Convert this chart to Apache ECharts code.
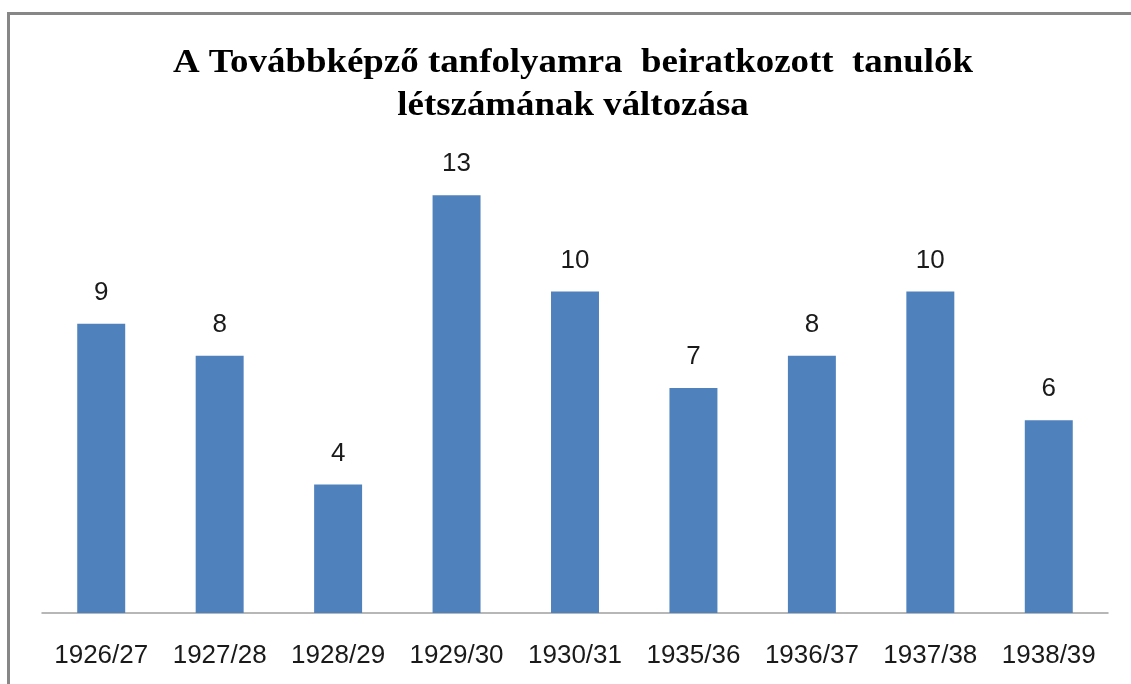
<!DOCTYPE html>
<html>
<head>
<meta charset="utf-8">
<script src="https://cdn.jsdelivr.net/npm/echarts@6/dist/echarts.min.js"></script>
<style>
  html, body { margin: 0; padding: 0; background: #fff; }
  #chart { width: 1131px; height: 684px; }
</style>
</head>
<body>
<div id="chart"></div>
<script>
// School years and enrolment counts for the further-training course
const years = ['1926/27', '1927/28', '1928/29', '1929/30', '1930/31', '1935/36', '1936/37', '1937/38', '1938/39'];
const students = [9, 8, 4, 13, 10, 7, 8, 10, 6];
const titleLines = ['A Továbbképző tanfolyamra  beiratkozott  tanulók', 'létszámának változása'];

const chart = echarts.init(document.getElementById('chart'), null, { renderer: 'canvas' });

const titleFont = {
  fontFamily: '"Liberation Serif", "Times New Roman", serif',
  fontWeight: 'bold',
  fontSize: 34,
  fill: '#000',
  align: 'center',
  verticalAlign: 'middle'
};

// Title lines, drawn slightly widened like the original typeface
const titleGraphics = titleLines.map((line, i) => {
  const cy = 63 + i * 43;
  return {
    type: 'text',
    x: 573,
    y: cy,
    scaleX: 1.085,
    style: Object.assign({ text: line }, titleFont),
    silent: true
  };
});

chart.setOption({
  animation: false,
  backgroundColor: '#ffffff',
  graphic: [{
    type: 'rect',
    shape: { x: 8.5, y: 13.5, width: 1200, height: 800 },
    style: { fill: 'none', stroke: '#878787', lineWidth: 3 },
    silent: true
  }].concat(titleGraphics),
  grid: { left: 42, right: 23, top: 163, bottom: 71 },
  xAxis: {
    type: 'category',
    data: years,
    axisLine: { lineStyle: { color: '#a0a0a0', width: 1.5 } },
    axisTick: { show: false },
    axisLabel: {
      interval: 0,
      margin: 30,
      color: '#1a1a1a',
      fontFamily: '"Liberation Sans", Arial, sans-serif',
      fontSize: 26
    }
  },
  yAxis: {
    type: 'value',
    min: 0,
    max: 14,
    interval: 2,
    show: false,
    splitLine: { show: false }
  },
  series: [{
    type: 'bar',
    data: students,
    barWidth: '40.5%',
    itemStyle: { color: '#4f81bd' },
    label: {
      show: true,
      position: 'top',
      distance: 18,
      color: '#1a1a1a',
      fontFamily: '"Liberation Sans", Arial, sans-serif',
      fontSize: 26
    }
  }]
});
</script>
</body>
</html>
